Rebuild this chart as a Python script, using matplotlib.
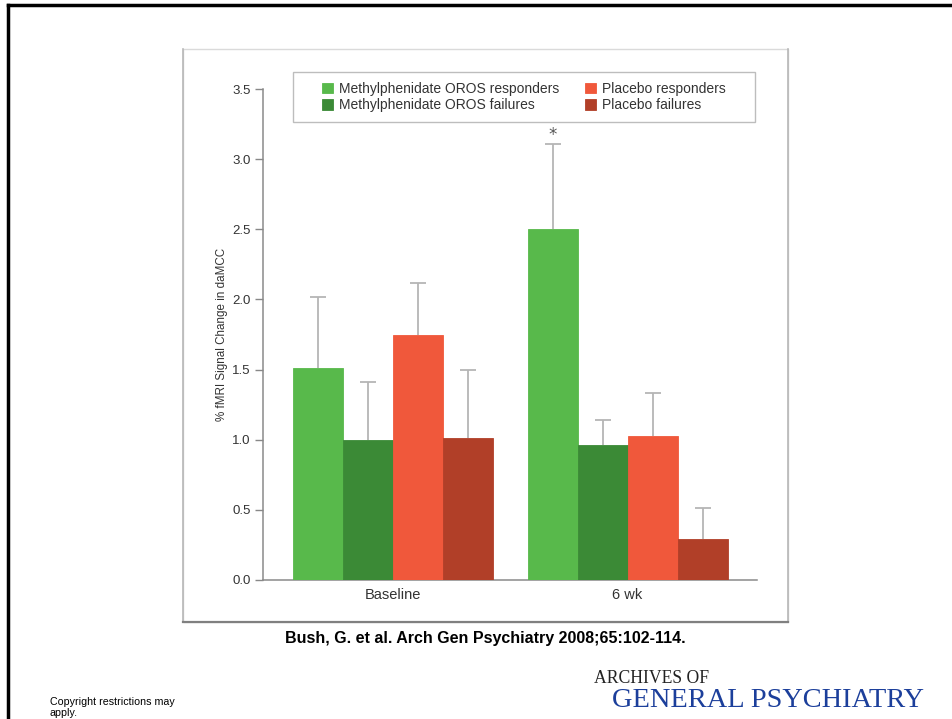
import matplotlib.pyplot as plt
import matplotlib.patches as mpatches
from matplotlib.lines import Line2D
import numpy as np

# data
groups = ['Baseline', '6 wk']
series = ['Methylphenidate OROS responders', 'Methylphenidate OROS failures',
          'Placebo responders', 'Placebo failures']
means = [
    [1.51, 2.50],   # MPH responders
    [1.00, 0.96],   # MPH failures
    [1.75, 1.03],   # placebo responders
    [1.01, 0.29],   # placebo failures
]
err_upper = [
    [0.51, 0.61],
    [0.41, 0.18],
    [0.37, 0.30],
    [0.49, 0.22],
]
colors = ['#58b94b', '#3b8a36', '#f0583b', '#b13f28']
yticks = [0.0, 0.5, 1.0, 1.5, 2.0, 2.5, 3.0, 3.5]

W, H = 952, 719
fig = plt.figure(figsize=(W / 100, H / 100), dpi=100)
plt.rcParams['font.family'] = ['Liberation Sans', 'DejaVu Sans']


def fx(px):
    return px / W


def fy(py):
    return 1 - py / H


# slide border (top and left edges visible)
fig.add_artist(Line2D([fx(8), 1], [fy(5), fy(5)], color='black', lw=2.5))
fig.add_artist(Line2D([fx(8), fx(8)], [fy(5), 0], color='black', lw=2.5))

# figure panel frame
fig.add_artist(mpatches.Rectangle((fx(183), fy(622)), fx(788) - fx(183), fy(49) - fy(622),
                                  fill=False, edgecolor='#dadada', lw=1.0))
fig.add_artist(Line2D([fx(183), fx(183)], [fy(49), fy(622)], color='#b8b8b8', lw=1.2))
fig.add_artist(Line2D([fx(788), fx(788)], [fy(49), fy(622)], color='#b8b8b8', lw=1.2))
fig.add_artist(Line2D([fx(183), fx(788)], [fy(622), fy(622)], color='#808080', lw=1.6))

ax = fig.add_axes([fx(263), fy(580), fx(757) - fx(263), fy(89) - fy(580)])

group_x = np.array([0.0, 4.7])
offsets = [-1.5, -0.5, 0.5, 1.5]
for i, name in enumerate(series):
    xs = group_x + offsets[i]
    tops = np.array(means[i]) + np.array(err_upper[i])
    ax.bar(xs, means[i], width=1.0, color=colors[i], edgecolor=colors[i], lw=0.6,
           label=name, zorder=3)
    # upper-only error bars with a cap at the top
    ax.vlines(xs, means[i], tops, color='#b5b5b5', lw=1.3, zorder=2)
    ax.plot(xs, tops, ls='none', marker='_', ms=11, mew=1.3, color='#b5b5b5', zorder=2)

# significance marker
ax.text(group_x[1] + offsets[0], means[0][1] + err_upper[0][1] + 0.065, '*',
        ha='center', va='center', fontsize=12, color='#555555', family='DejaVu Sans')

ax.set_xlim(-2.59, 7.29)
ax.set_ylim(0, 3.5)
ax.set_yticks(yticks)
ax.set_yticklabels(['%.1f' % t for t in yticks])
ax.set_xticks(group_x)
ax.set_xticklabels(groups)
ax.tick_params(axis='x', length=0, pad=6, labelsize=10.5, labelcolor='#333333')
ax.tick_params(axis='y', length=6, width=1, color='#888888', pad=3,
               labelsize=9.5, labelcolor='#333333')
for s in ['top', 'right']:
    ax.spines[s].set_visible(False)
for s in ['left', 'bottom']:
    ax.spines[s].set_color('#8a8a8a')
    ax.spines[s].set_linewidth(1.1)
ax.spines['left'].set_bounds(0, 3.5)

ax.set_ylabel('% fMRI Signal Change in daMCC', fontsize=8.4, color='#333333', labelpad=3)

# legend box drawn separately so the padding matches
ax.add_patch(mpatches.Rectangle((0.0607, 0.9328), 0.9353, 0.1018, transform=ax.transAxes,
                                fill=False, edgecolor='#bdbdbd', lw=1.0, clip_on=False))
leg = ax.legend(ncol=2, loc='upper left', bbox_to_anchor=(0.1194, 1.0143),
                fontsize=10, frameon=False,
                handlelength=0.8, handleheight=0.8, handletextpad=0.45,
                columnspacing=1.8, borderpad=0, labelspacing=0.15, borderaxespad=0)
for t in leg.get_texts():
    t.set_color('#333333')

fig.text(fx(485), fy(638), 'Bush, G. et al. Arch Gen Psychiatry 2008;65:102-114.',
         ha='center', va='center', fontsize=11.5, fontweight='bold', color='black')

fig.text(fx(594), fy(683), 'ARCHIVES OF', ha='left', va='baseline',
         family='Liberation Serif', fontsize=12.7, color='#222222')
fig.text(fx(612), fy(707), 'GENERAL PSYCHIATRY', ha='left', va='baseline',
         family='Liberation Serif', fontsize=20.4, color='#1c3f9b')

fig.text(fx(50), fy(697), 'Copyright restrictions may\napply.', ha='left', va='top',
         fontsize=7.7, color='black', linespacing=1.1)

fig.savefig('out.png', dpi=100)
